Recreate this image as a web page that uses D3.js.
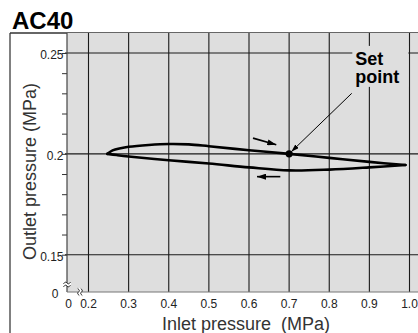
<!DOCTYPE html>
<html>
<head>
<meta charset="utf-8">
<script src="https://cdn.jsdelivr.net/npm/d3@7"></script>
<style>
  body { margin: 0; background: #fff; }
  text { font-family: "Liberation Sans", Arial, Helvetica, sans-serif; }
</style>
</head>
<body>
<div id="chart"></div>
<script>
// chart data
const chartTitle = "AC40";
const xTickValues = [0, 0.2, 0.3, 0.4, 0.5, 0.6, 0.7, 0.8, 0.9, 1.0];
const xTickLabels = ["0", "0.2", "0.3", "0.4", "0.5", "0.6", "0.7", "0.8", "0.9", "1.0"];
const yTickValues = [0, 0.15, 0.2, 0.25];
const yTickLabels = ["0", "0.15", "0.2", "0.25"];
const yMinorTicks = [0.15, 0.16, 0.17, 0.18, 0.19, 0.2, 0.21, 0.22, 0.23, 0.24, 0.25];

// rising inlet pressure (upper branch)
const upInlet  = [0.247, 0.26, 0.28, 0.3, 0.35, 0.4, 0.45, 0.5, 0.6, 0.7, 0.8, 0.9, 0.99];
const upOutlet = [0.2, 0.2017, 0.2028, 0.2035, 0.2044, 0.2049, 0.2047, 0.2038, 0.2018, 0.2, 0.198, 0.196, 0.1945];
// falling inlet pressure (lower branch)
const downInlet  = [0.247, 0.27, 0.3, 0.4, 0.5, 0.6, 0.7, 0.8, 0.9, 0.99];
const downOutlet = [0.2, 0.1994, 0.1987, 0.1968, 0.1952, 0.1933, 0.1918, 0.1922, 0.1933, 0.1945];

const setPoint = [0.7, 0.2];
const setLabel = ["Set", "point"];
const setLabelAt = [0.865, 0.2441];
const leaderFrom = [0.856, 0.2300];
const upArrow = [[0.61, 0.2078], [0.668, 0.2045]];
const downArrow = [[0.678, 0.1887], [0.62, 0.1887]];

const xLabel = "Inlet pressure  (MPa)";
const yLabel = "Outlet pressure (MPa)";

const width = 418, height = 333;
const plotTop = 33, plotBottom = 292;
const gridColor = "#1a1a1a", plotFill = "#dedede";

const svg = d3.select("#chart").append("svg")
    .attr("width", width)
    .attr("height", height);

// broken axes: the "0" sits just left/below of the real range
const x = d3.scaleLinear().domain([0, 0.2, 1.0]).range([67, 88.5, 409.5]);
const y = d3.scaleLinear().domain([0, 0.15, 0.25]).range([plotBottom, 254.7, 53]);

const defs = svg.append("defs");
function headMarker(id, w, h) {
    defs.append("marker")
        .attr("id", id)
        .attr("viewBox", `0 0 ${w} ${h}`)
        .attr("refX", w).attr("refY", h / 2)
        .attr("markerWidth", w).attr("markerHeight", h)
        .attr("markerUnits", "userSpaceOnUse")
        .attr("orient", "auto")
        .append("path")
        .attr("d", `M0,0L${w},${h / 2}L0,${h}Z`)
        .attr("fill", "#000");
}
headMarker("head", 8, 5);
headMarker("headsmall", 9, 6);

// title + outer frame
svg.append("text")
    .attr("x", 12).attr("y", 29)
    .attr("font-size", "24px")
    .attr("font-weight", "bold")
    .text(chartTitle);

svg.append("line")
    .attr("x1", 10).attr("x2", 10)
    .attr("y1", plotTop).attr("y2", height)
    .attr("stroke", "#808080").attr("stroke-width", 2);
svg.append("line")
    .attr("x1", 10).attr("x2", width)
    .attr("y1", plotTop).attr("y2", plotTop)
    .attr("stroke", "#333").attr("stroke-width", 1.5);

// plot background
svg.append("rect")
    .attr("x", x(0)).attr("y", plotTop)
    .attr("width", width - x(0)).attr("height", plotBottom - plotTop)
    .attr("fill", plotFill);

// grid
svg.append("g").selectAll("line")
    .data(xTickValues.filter(d => d > 0))
    .join("line")
    .attr("x1", d => x(d)).attr("x2", d => x(d))
    .attr("y1", plotTop).attr("y2", plotBottom)
    .attr("stroke", gridColor).attr("stroke-width", 1.1);

svg.append("g").selectAll("line")
    .data(yTickValues.filter(d => d > 0))
    .join("line")
    .attr("x1", x(0) - 2).attr("x2", width)
    .attr("y1", d => y(d)).attr("y2", d => y(d))
    .attr("stroke", gridColor).attr("stroke-width", 1.1);

// y axis with minor ticks
svg.append("g")
    .attr("transform", `translate(${x(0)},0)`)
    .call(d3.axisLeft(y).tickValues(yMinorTicks).tickSize(5).tickFormat(""))
    .call(g => g.select(".domain").remove())
    .selectAll("line").attr("stroke", "#333");

svg.append("line")
    .attr("x1", x(0)).attr("x2", x(0))
    .attr("y1", plotTop).attr("y2", plotBottom)
    .attr("stroke", "#444").attr("stroke-width", 1.2);
svg.append("line")
    .attr("x1", x(0)).attr("x2", width)
    .attr("y1", plotBottom).attr("y2", plotBottom)
    .attr("stroke", "#777").attr("stroke-width", 1);

// tick labels
svg.append("g").selectAll("text")
    .data(yTickValues)
    .join("text")
    .attr("x", d => d === 0 ? x(0) - 8.5 : x(0) - 3.5)
    .attr("y", d => y(d) + 6)
    .attr("text-anchor", "end")
    .attr("font-size", "12px")
    .attr("fill", "#222")
    .text((d, i) => yTickLabels[i]);

svg.append("g").selectAll("text")
    .data(xTickValues)
    .join("text")
    .attr("x", d => d === 0 ? x(0) + 1.5 : x(d))
    .attr("y", plotBottom + 16)
    .attr("text-anchor", "middle")
    .attr("font-size", "12px")
    .attr("fill", "#222")
    .text((d, i) => xTickLabels[i]);

// break marks on both axes
const wave = "M-3.5,0.8 C-2,-1.2 -1,-1.2 0,0 S2,1.2 3.5,-0.8";
const yb = svg.append("g").attr("transform", `translate(${x(0)},${y(0) - 7.5})`);
yb.append("rect").attr("x", -4).attr("y", -1.5).attr("width", 8).attr("height", 3).attr("fill", "#fff");
[-1.5, 1.5].forEach(o => yb.append("path").attr("d", wave)
    .attr("transform", `translate(0,${o})`)
    .attr("fill", "none").attr("stroke", "#222").attr("stroke-width", 1));
const xb = svg.append("g").attr("transform", `translate(${x(0) + 13},${y(0)}) rotate(90)`);
xb.append("rect").attr("x", -4).attr("y", -1.5).attr("width", 8).attr("height", 3).attr("fill", "#fff");
[-1.5, 1.5].forEach(o => xb.append("path").attr("d", wave)
    .attr("transform", `translate(0,${o})`)
    .attr("fill", "none").attr("stroke", "#222").attr("stroke-width", 1));

// axis titles
svg.append("text")
    .attr("x", 246).attr("y", 330)
    .attr("text-anchor", "middle")
    .attr("font-size", "18px")
    .attr("fill", "#333")
    .style("white-space", "pre")
    .text(xLabel);

svg.append("text")
    .attr("transform", `translate(36,${(80 + 263) / 2}) rotate(-90)`)
    .attr("text-anchor", "middle")
    .attr("font-size", "18px")
    .attr("fill", "#333")
    .text(yLabel);

// hysteresis loop
const line = d3.line()
    .x(d => x(d[0]))
    .y(d => y(d[1]))
    .curve(d3.curveCatmullRom.alpha(0.5));

[[upInlet, upOutlet], [downInlet, downOutlet]].forEach(([xs, ys]) => {
    svg.append("path")
        .datum(xs.map((v, i) => [v, ys[i]]))
        .attr("fill", "none")
        .attr("stroke", "#000")
        .attr("stroke-width", 2.6)
        .attr("stroke-linecap", "round")
        .attr("stroke-linejoin", "round")
        .attr("d", line);
});

// direction arrows
[upArrow, downArrow].forEach(a => {
    svg.append("line")
        .attr("x1", x(a[0][0])).attr("y1", y(a[0][1]))
        .attr("x2", x(a[1][0])).attr("y2", y(a[1][1]))
        .attr("stroke", "#000").attr("stroke-width", 1.6)
        .attr("marker-end", "url(#headsmall)");
});

// set point label, with a patch hiding the grid behind it
const lab = svg.append("g");
const labBg = lab.append("rect").attr("fill", plotFill);
setLabel.forEach((t, i) => {
    lab.append("text")
        .attr("x", x(setLabelAt[0]))
        .attr("y", y(setLabelAt[1]) + i * 18)
        .attr("font-size", "18px")
        .attr("font-weight", "bold")
        .text(t);
});
const bb = lab.node().getBBox();
labBg.attr("x", bb.x - 3).attr("y", bb.y - 3)
    .attr("width", bb.width + 12).attr("height", bb.height + 3);

// leader to the set point
const sx = x(setPoint[0]), sy = y(setPoint[1]);
const lx = x(leaderFrom[0]), ly = y(leaderFrom[1]);
const len = Math.hypot(sx - lx, sy - ly);
svg.append("line")
    .attr("x1", lx).attr("y1", ly)
    .attr("x2", sx + (lx - sx) / len * 3).attr("y2", sy + (ly - sy) / len * 3)
    .attr("stroke", "#000").attr("stroke-width", 1)
    .attr("marker-end", "url(#head)");

svg.append("circle")
    .attr("cx", sx).attr("cy", sy)
    .attr("r", 3.6)
    .attr("fill", "#000");
</script>
</body>
</html>
